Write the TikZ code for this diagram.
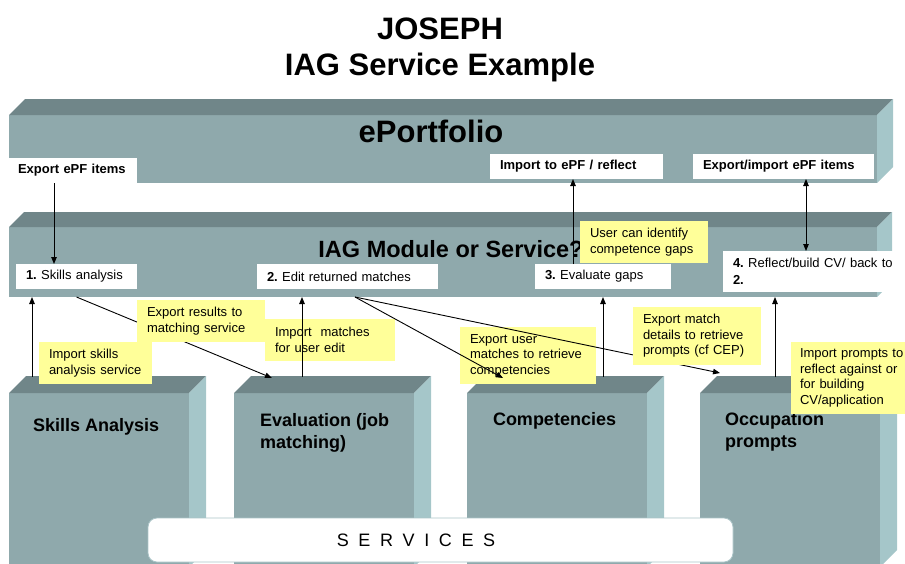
\documentclass[tikz,border=0pt]{standalone}
\usepackage{fontspec}
\setmainfont{Liberation Sans}
\usetikzlibrary{arrows.meta, calc}
\frenchspacing

\definecolor{slabfront}{RGB}{143,169,172}
\definecolor{slabtop}{RGB}{112,134,137}
\definecolor{slabside}{RGB}{165,198,201}
\definecolor{noteyellow}{RGB}{255,255,153}
\definecolor{svcedge}{RGB}{170,196,199}

% bevelled top and right side behind a slab node (#1 = node, #2 = depth)
\newcommand\slabsides[2]{%
  \fill[slabtop] (#1.north west) -- ++(#2,-#2) -- ([shift={(#2,-#2)}]#1.north east) -- (#1.north east) -- cycle;
  \fill[slabside] (#1.north east) -- ++(#2,-#2) -- ([shift={(#2,-#2)}]#1.south east) -- (#1.south east) -- cycle;}

\begin{document}
\begin{tikzpicture}[
  x=1pt, y=-1pt,
  every node/.style={inner sep=0pt, outer sep=0pt},
  slab/.style={fill=slabfront, anchor=north west},
  big/.style={font=\fontsize{31}{36}\selectfont\bfseries},
  blocktitle/.style={anchor=north west, align=left, font=\fontsize{18}{22}\selectfont\bfseries},
  wbox/.style={fill=white, anchor=north west, inner xsep=10pt, minimum height=25pt,
    align=left, font=\fontsize{13}{17}\selectfont},
  note/.style={fill=noteyellow, anchor=north west, inner xsep=10pt,
    align=left, font=\fontsize{13}{15.5}\selectfont},
  svc/.style={fill=white, draw=svcedge, line width=0.8pt, rounded corners=9pt, anchor=north west},
  arr/.style={line width=0.9pt, -{Triangle[length=7pt,width=5.5pt]}},
  arr2/.style={arr, {Triangle[length=7pt,width=5.5pt]}-{Triangle[length=7pt,width=5.5pt]}}
]
\clip (0,0) rectangle (905,563);

% Title
\node[big, anchor=base] (title1) at (440,39) {JOSEPH};
\node[big, anchor=base] (title2) at (440,75) {IAG Service Example};

% Slabs
\node[slab, minimum width=868pt, minimum height=68pt] (epf) at (9,115) {};
\slabsides{epf}{16}
\node[slab, minimum width=868pt, minimum height=70pt] (iag) at (9,227) {};
\slabsides{iag}{15}
\node[big, anchor=base] (epfname) at (431,142) {ePortfolio};
\node[big, anchor=base, font=\fontsize{23.5}{28}\selectfont\bfseries] (iagname) at (451,257) {IAG Module or Service?};

% Service blocks
\foreach \name/\x in {skills/9, evalb/234, comp/467, occ/700} {
  \node[slab, minimum width=180pt, minimum height=174pt] (\name) at (\x,393) {};
  \slabsides{\name}{17}
}
\node[blocktitle] (skillsname) at (33,418) {Skills Analysis};
\node[blocktitle] (evalname) at (260,413) {Evaluation (job\\matching)};
\node[blocktitle] (compname) at (493,412) {Competencies};
\node[blocktitle] (occname) at (725,412) {Occupation\\prompts};

\node[svc, minimum width=585pt, minimum height=44pt,
  label={[xshift=-24.5pt, font=\fontsize{18}{22}\selectfont]center:S\hspace{9.6pt}E\hspace{9.6pt}R\hspace{9.6pt}V\hspace{9.6pt}I\hspace{9.6pt}C\hspace{9.6pt}E\hspace{9.6pt}S}]
  (services) at (148,518) {};

% ePortfolio items
\node[wbox, text width=109pt] (epfExp) at (8,158) {\bfseries Export ePF items};
\node[wbox, text width=153pt] (epfImp) at (490,154) {\bfseries Import to ePF / reflect};
\node[wbox, text width=161pt] (epfIO) at (693,154) {\bfseries Export/import ePF items};

% Module steps
\node[wbox, text width=101pt] (step1) at (16,264) {\textbf{1.} Skills analysis};
\node[wbox, text width=161pt] (step2) at (257,264) {\textbf{2.} Edit returned matches};
\node[wbox, text width=116pt] (step3) at (535,264) {\textbf{3.} Evaluate gaps};
\node[wbox, text width=150pt, minimum height=41pt, font=\fontsize{13}{17.5}\selectfont] (step4) at (723,251)
  {\mbox{\textbf{4.} Reflect/build CV/ back to}\\\textbf{2.}};

% Notes under the connectors
\node[note, text width=93pt, minimum height=42pt] (impSkills) at (39,342) {Import skills\\analysis service};
\node[note, text width=110pt, minimum height=42pt] (impMatch) at (265,319) {Import~ matches\\for user edit};
\node[note, text width=116pt, minimum height=57pt] (expUser) at (460,327) {Export user\\matches to retrieve\\competencies};
\node[note, text width=105pt, minimum height=72pt, inner xsep=9pt] (impPrompts) at (791,342) {Import prompts to\\reflect against or\\for building\\CV/application};
\node[note, text width=108pt, minimum height=42pt] (userGaps) at (580,221) {User can identify\\competence gaps};

% Between ePortfolio and module
\draw[arr] ([xshift=-18.5pt]epfExp.south) -- ([xshift=-22.5pt]step1.north);
\draw[arr] ([xshift=-30pt]step3.north) -- ([xshift=-3.5pt]epfImp.south);
\coordinate (s4top) at ([xshift=-2pt]step4.north);
\draw[arr2] (s4top) -- (s4top |- epfIO.south);

% Services up into the module
\coordinate (skUp) at (32,377);
\coordinate (evUp) at (302,377);
\coordinate (coUp) at (603,377);
\coordinate (ocUp) at (775,377);
\foreach \c in {skUp, evUp, coUp, ocUp}
  \draw[arr] (\c) -- (\c |- iag.south);

% Module out to the services
\coordinate (s1out) at (step1.south |- iag.south);
\coordinate (s2out) at (355,297);
\coordinate (evIn) at (272,378);
\coordinate (coIn) at (503,378);
\coordinate (ocIn) at (720,373);
\draw[arr] (s1out) -- (evIn);
\draw[arr] (s2out) -- (coIn);
\draw[arr] (s2out) -- (ocIn);

% Notes over the connectors
\node[note, text width=108pt, minimum height=42pt] (expRes) at (137,300) {Export results to\\matching service};
\node[note, text width=108pt, minimum height=58pt] (expMatch) at (633,307) {Export match\\details to retrieve\\prompts (cf CEP)};

\end{tikzpicture}
\end{document}
